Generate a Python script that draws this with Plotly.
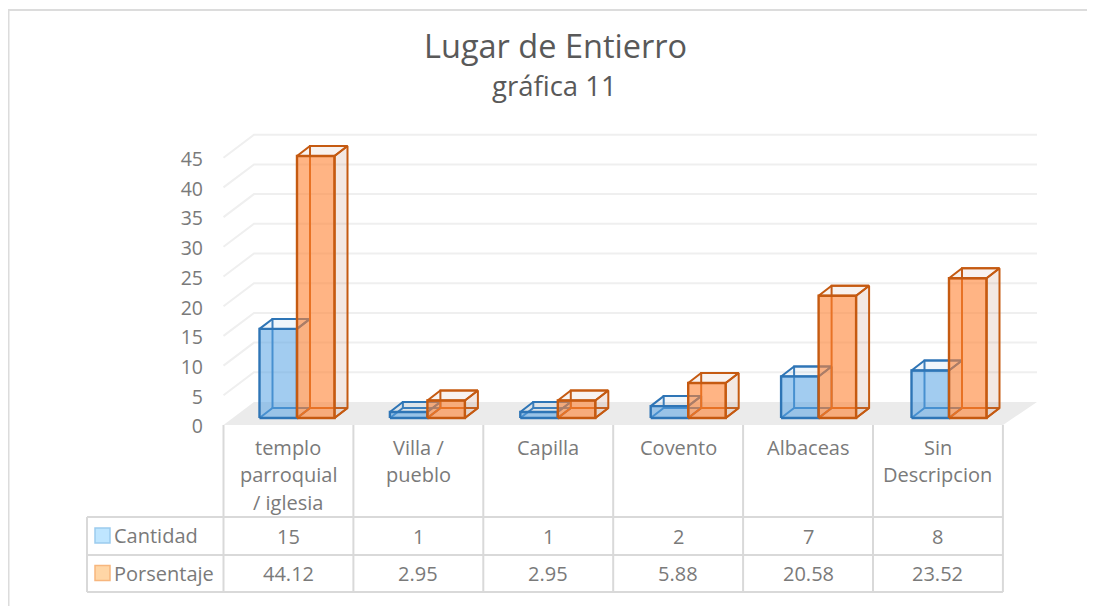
import plotly.graph_objects as go

# ---- data ----
categories = [["templo", "parroquial", "/ iglesia"], ["Villa /", "pueblo"], ["Capilla"],
              ["Covento"], ["Albaceas"], ["Sin", "Descripcion"]]
cantidad = [15, 1, 1, 2, 7, 8]
porsentaje = [44.12, 2.95, 2.95, 5.88, 20.58, 23.52]
cantidad_labels = ["15", "1", "1", "2", "7", "8"]
porsentaje_labels = ["44.12", "2.95", "2.95", "5.88", "20.58", "23.52"]
y_ticks = [0, 5, 10, 15, 20, 25, 30, 35, 40, 45]
title = "Lugar de Entierro"
subtitle = "gráfica 11"
row_names = ["Cantidad", "Porsentaje"]

# ---- layout geometry (pixels on the 1095x606 page; the page body has an 8px margin) ----
OFF = 8
W, H = 1087, 598
CAT0_PX, CAT_W = 223.5, 129.9     # left edge of first category cell, cell width
BAR0_PX, BAR_PITCH = 259.5, 130.4 # left edge of first bar, distance between clusters
BASE_PX, UNIT = 418.0, 5.94       # pixel row of value 0 at bar front, px per unit
BAR_W = 37.5                      # bar width
DX, DY = 13.0, 10.0               # bar depth
FLOOR_FRONT, FLOOR_BACK = 425.0, 402.0
FLOOR_DX = 30.5
FLOOR_R_FRONT, FLOOR_R_BACK = 1003.0, 1037.0
TXT, TITLE_C, GRID, TBL = "#7a7a7a", "#595959", "#efefef", "#d9d9d9"
FONT = "Open Sans"
FS = 20


def X(px):
    return (px - CAT0_PX) / CAT_W


def Y(py):
    return (BASE_PX - py) / UNIT


def PX(px):
    return (px - OFF) / W


def PY(py):
    return 1 - (py - OFF) / H


fig = go.Figure()


def poly(xs, ys, fill=None, line=None, width=2.0):
    fig.add_trace(go.Scatter(
        x=[X(a) for a in xs], y=[Y(b) for b in ys], mode="lines" if line else "none",
        fill="toself" if fill else None, fillcolor=fill,
        line=dict(color=line or "rgba(0,0,0,0)", width=width, simplify=False),
        hoverinfo="skip", showlegend=False))


# gridlines
for v in y_ticks[1:]:
    d = v * UNIT
    poly([CAT0_PX, CAT0_PX + FLOOR_DX, FLOOR_R_BACK],
         [FLOOR_FRONT - d, FLOOR_BACK - d, FLOOR_BACK - d], None, GRID, 2)

# floor
poly([CAT0_PX, CAT0_PX + FLOOR_DX, FLOOR_R_BACK, FLOOR_R_FRONT, CAT0_PX],
     [FLOOR_FRONT, FLOOR_BACK, FLOOR_BACK, FLOOR_FRONT, FLOOR_FRONT], "#ebebeb")


def box(i, value, shift, edge, front, side, top):
    x0 = BAR0_PX + BAR_PITCH * i + shift
    x1 = x0 + BAR_W
    y0 = BASE_PX
    y1 = BASE_PX - value * UNIT
    # rear edges
    poly([x0 + DX, x0 + DX, x1 + DX], [y0 - DY, y1 - DY, y1 - DY], None, edge, 2)
    poly([x0, x0 + DX, x1 + DX, x1], [y0, y0 - DY, y0 - DY, y0], None, edge, 2)
    # top + right faces
    poly([x0, x0 + DX, x1 + DX, x1, x0], [y1, y1 - DY, y1 - DY, y1, y1], top, edge, 2)
    poly([x1, x1 + DX, x1 + DX, x1, x1], [y1, y1 - DY, y0 - DY, y0, y1], side, edge, 2)
    # front face
    poly([x0, x1, x1, x0, x0], [y0, y0, y1, y1, y0], front, edge, 2.4)


for i in range(len(categories)):
    box(i, cantidad[i], 0, "#2e75b6", "rgba(91,165,228,0.57)",
        "rgba(150,190,225,0.12)", "rgba(150,190,225,0.14)")
    box(i, porsentaje[i], BAR_W, "#c55a11", "rgba(255,130,50,0.6)",
        "rgba(190,130,100,0.18)", "rgba(190,130,100,0.1)")

shapes = []


def seg(x0, y0, x1, y1, color=TBL, width=2):
    shapes.append(dict(type="line", xref="paper", yref="paper", x0=PX(x0), x1=PX(x1),
                       y0=PY(y0), y1=PY(y1), line=dict(color=color, width=width)))


# data table rules
for k in range(len(categories) + 1):
    px = CAT0_PX + CAT_W * k
    seg(px, FLOOR_FRONT, px, 592)
for ry in (517, 555, 592):
    seg(87, ry, CAT0_PX + CAT_W * len(categories), ry)
seg(87, 517, 87, 592)

# legend keys
for ky, fc, lc in ((535.5, "#bfe6ff", "#9ccbee"), (573, "#ffd6a6", "#f7b67e")):
    shapes.append(dict(type="rect", xref="paper", yref="paper", x0=PX(95), x1=PX(110),
                       y0=PY(ky + 7.5), y1=PY(ky - 7.5),
                       fillcolor=fc, line=dict(color=lc, width=1.5)))

# frame (top and left edges only are visible in the crop)
seg(8, 10, 1095, 10, "#dcdcdc", 2)
seg(8.5, 10, 8.5, 606, "#dcdcdc", 2)

ann = []


def text(px, py, s, size=FS, color=TXT, anchor="center"):
    ann.append(dict(xref="paper", yref="paper", x=PX(px), y=PY(py), text=s, showarrow=False,
                    xanchor=anchor, yanchor="middle", font=dict(family=FONT, size=size, color=color)))


text(555, 46, title, 32.5, TITLE_C)
text(554.5, 85, subtitle, 27.5, TITLE_C)

for i, lines in enumerate(categories):
    cx = CAT0_PX + CAT_W * (i + 0.5)
    for j, s in enumerate(lines):
        text(cx, 447 + 27.5 * j, s)
    text(cx, 536, cantidad_labels[i])
    text(cx, 573.5, porsentaje_labels[i])
text(112, 535.5, row_names[0], anchor="left")
text(112, 573, row_names[1], anchor="left")

LABEL_BASE = FLOOR_FRONT + 1.5
fig.update_layout(
    width=W, height=H, autosize=False, margin=dict(l=0, r=0, t=0, b=0),
    paper_bgcolor="white", plot_bgcolor="white", showlegend=False,
    xaxis=dict(range=[X(OFF), X(OFF + W)], visible=False, fixedrange=True),
    yaxis=dict(range=[Y(OFF + H), Y(OFF)], visible=False, fixedrange=True),
    yaxis2=dict(overlaying="y", anchor="free", position=PX(203), side="left",
                range=[(LABEL_BASE - OFF - H) / UNIT, (LABEL_BASE - OFF) / UNIT],
                tickmode="array", tickvals=y_ticks, ticktext=[str(v) for v in y_ticks],
                showgrid=False, zeroline=False, showline=False, ticks="",
                tickfont=dict(family=FONT, size=19.5, color=TXT), fixedrange=True),
    shapes=shapes, annotations=ann,
)
# invisible trace that activates the value-label axis
fig.add_trace(go.Scatter(x=[X(OFF)], y=[0], yaxis="y2", mode="none", hoverinfo="skip", showlegend=False))

fig.write_html("out.html", config=dict(displayModeBar=False))
